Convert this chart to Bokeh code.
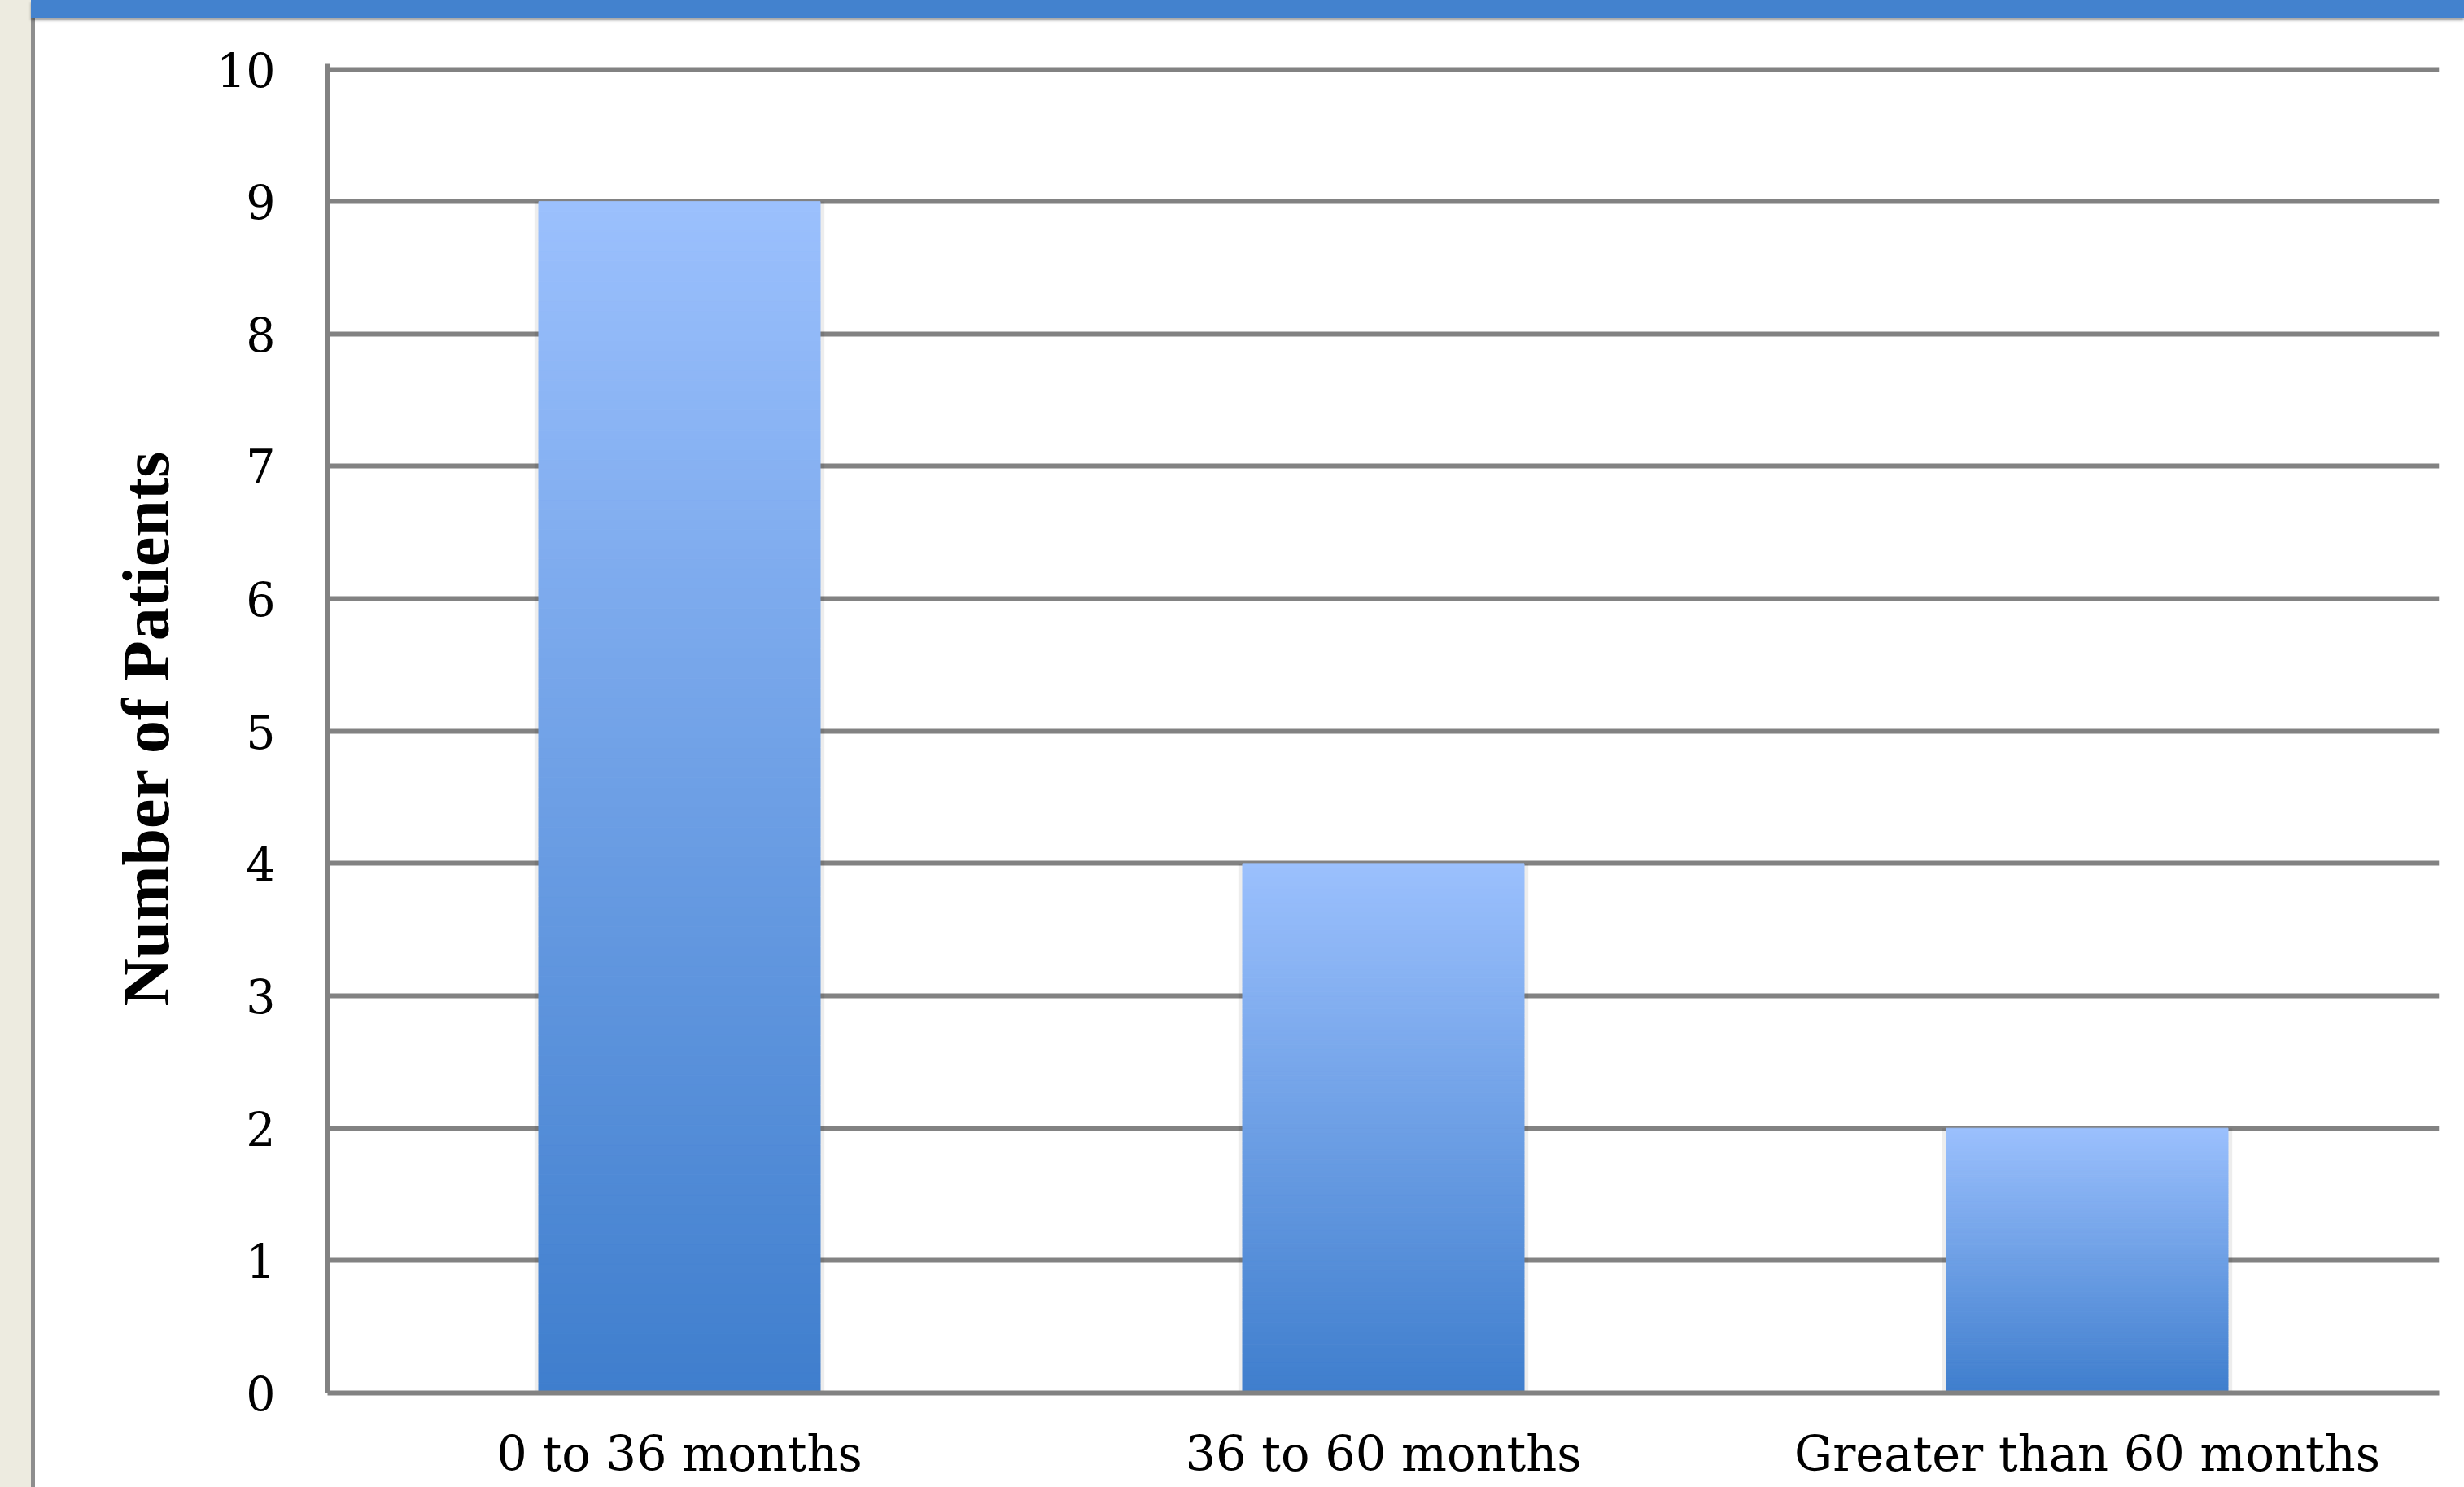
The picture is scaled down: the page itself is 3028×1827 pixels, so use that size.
from bokeh.plotting import figure
from bokeh.layouts import row, column
from bokeh.models import Div, FactorRange, Range1d, ColumnDataSource
from bokeh.embed import file_html
from bokeh.resources import INLINE

# ---- data ----
categories = ["0 to 36 months", "36 to 60 months", "Greater than 60 months"]
patients = [9, 4, 2]
y_ticks = [0, 1, 2, 3, 4, 5, 6, 7, 8, 9, 10]
y_label = "Number of Patients"

# ---- style ----
TOP_RGB = (155, 192, 253)
BOT_RGB = (63, 126, 205)
GRID = "#828282"
N_SLICES = 120


def mix(f):
    r = [round(BOT_RGB[k] + (TOP_RGB[k] - BOT_RGB[k]) * f) for k in range(3)]
    return "#%02x%02x%02x" % tuple(r)


xs, bottoms, tops, colors = [], [], [], []
for cat, val in zip(categories, patients):
    for i in range(N_SLICES):
        xs.append(cat)
        bottoms.append(val * i / N_SLICES)
        tops.append(val * (i + 1) / N_SLICES)
        colors.append(mix((i + 0.5) / N_SLICES))
slices = ColumnDataSource(dict(x=xs, bottom=bottoms, top=tops, color=colors))
shadow = ColumnDataSource(dict(x=categories, top=patients))

p = figure(
    width=2985, height=1805,
    x_range=FactorRange(*categories, range_padding=0),
    y_range=Range1d(0, 10.04),
    output_backend="svg", toolbar_location=None,
    min_border_left=359, min_border_right=31,
    min_border_top=56, min_border_bottom=116,
    margin=0,
)
p.outline_line_color = None
p.background_fill_color = "white"
p.border_fill_color = "white"

# soft shadow
p.vbar(x="x", top="top", bottom=-0.06, width=0.412, source=shadow,
       fill_color="black", fill_alpha=0.07, line_color=None)
# gradient bars
p.vbar(x="x", top="top", bottom="bottom", width=0.40, source=slices,
       fill_color="color", line_color="color", line_width=1)

p.xgrid.grid_line_color = None
p.ygrid.grid_line_color = GRID
p.ygrid.grid_line_width = 6
p.ygrid.level = "underlay"

p.yaxis.ticker = y_ticks
p.yaxis.axis_label = y_label
p.yaxis.axis_label_text_font = "Liberation Serif"
p.yaxis.axis_label_text_font_style = "bold"
p.yaxis.axis_label_text_font_size = "82px"
p.yaxis.axis_label_text_color = "black"
p.yaxis.axis_label_standoff = 38
p.yaxis.major_label_standoff = 58

for ax in (p.xaxis[0], p.yaxis[0]):
    ax.axis_line_color = GRID
    ax.axis_line_width = 6
    ax.major_tick_line_color = None
    ax.minor_tick_line_color = None
    ax.major_label_text_font = "DejaVu Serif"
    ax.major_label_text_font_size = "57px"
    ax.major_label_text_color = "black"

p.xaxis.major_label_text_font_size = "59px"
p.xaxis.major_label_standoff = 34

gutter = Div(width=38, height=1827, margin=0,
             styles={"background-color": "#EDEBE0"})
band = Div(width=2990, height=22, margin=0, styles={
    "background-color": "#4382CE",
    "box-shadow": "0px 3px 3px rgba(0,0,0,0.35)",
    "z-index": "2",
})
edge = Div(width=5, height=1805, margin=0,
           styles={"background-color": "#8E8E8E"})

layout = row(gutter,
             column(band, row(edge, p, spacing=0, margin=0), spacing=0, margin=0),
             spacing=0, margin=0)

open("out.html", "w").write(file_html(layout, INLINE))
